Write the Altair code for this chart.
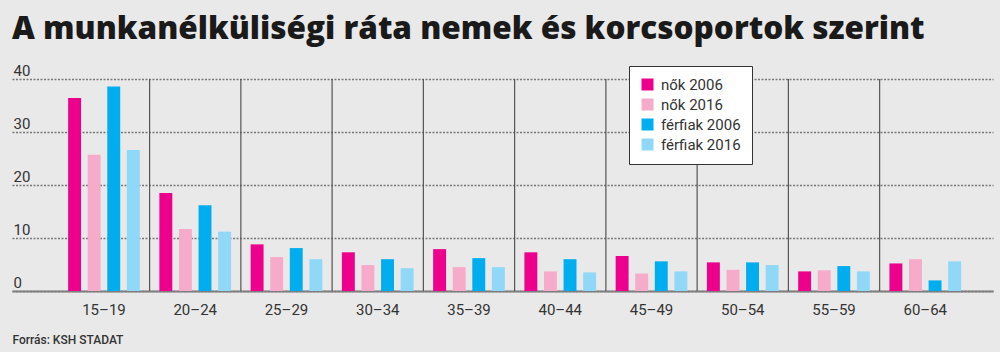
import altair as alt
import pandas as pd

categories = ["15–19", "20–24", "25–29", "30–34", "35–39", "40–44", "45–49", "50–54", "55–59", "60–64"]
series = ["nők 2006", "nők 2016", "férfiak 2006", "férfiak 2016"]
nok_2006 = [36.4, 18.5, 8.8, 7.3, 7.9, 7.3, 6.6, 5.4, 3.7, 5.2]
nok_2016 = [25.7, 11.7, 6.4, 4.9, 4.5, 3.7, 3.3, 4.0, 3.9, 6.0]
ferfiak_2006 = [38.6, 16.2, 8.1, 6.0, 6.2, 6.0, 5.6, 5.4, 4.7, 2.0]
ferfiak_2016 = [26.6, 11.2, 6.0, 4.3, 4.5, 3.5, 3.7, 4.9, 3.7, 5.6]
colors = ["#ec008c", "#f6abcb", "#00aeef", "#8fd8f8"]

values = [nok_2006, nok_2016, ferfiak_2006, ferfiak_2016]
rows = []
for s, vals in zip(series, values):
    for c, v in zip(categories, vals):
        rows.append({"kor": c, "sor": s, "ertek": v})
df = pd.DataFrame(rows)
sep_df = pd.DataFrame({"kor": categories[1:]})

W, H = 981, 212
FONT = "Roboto"

x_scale = alt.Scale(domain=categories, paddingInner=0, paddingOuter=0.375, align=0.677)
x_axis = alt.Axis(
    title="Forrás: KSH STADAT", titleX=0, titleY=52, titleAlign="left", titleAnchor="start",
    titleBaseline="alphabetic", titleFontSize=12, titleFontWeight=500, titleColor="#333",
    titleFont=FONT,
    labelAngle=0, labelFontSize=15, labelColor="#333", labelFont=FONT, labelPadding=11,
    ticks=False, domain=True, domainColor="#7f7f7f", domainWidth=2, grid=False,
)

bars = alt.Chart(df).mark_bar().encode(
    x=alt.X("kor:N", scale=x_scale, axis=x_axis, sort=categories),
    xOffset=alt.XOffset("sor:N", scale=alt.Scale(domain=series, paddingInner=0.34, paddingOuter=0.5)),
    y=alt.Y("ertek:Q", scale=alt.Scale(domain=[0, 40], nice=False),
            axis=alt.Axis(title=None, values=[0, 10, 20, 30, 40], domain=False, ticks=False,
                          labelAlign="left", labelBaseline="alphabetic", labelPadding=-1,
                          labelOffset=-4, labelFontSize=15, labelColor="#333", labelFont=FONT,
                          grid=True, gridColor="#777", gridDash=[2, 1.5], gridWidth=1.5)),
    color=alt.Color("sor:N", scale=alt.Scale(domain=series, range=colors),
                    legend=alt.Legend(title=None, orient="none", legendX=617, legendY=-13,
                                      symbolType="square", symbolSize=144, symbolStrokeWidth=0,
                                      labelFontSize=15, labelColor="#333", labelFont=FONT,
                                      labelOffset=6, rowPadding=4, padding=11,
                                      fillColor="white", strokeColor="#333")),
)

seps = alt.Chart(sep_df).mark_rule(color="#555", strokeWidth=1.2).encode(
    x=alt.X("kor:N", scale=x_scale, axis=x_axis, sort=categories, bandPosition=0),
    y=alt.value(0),
    y2=alt.value(H),
)

chart = alt.layer(seps, bars).properties(
    width=W, height=H,
    autosize=alt.AutoSizeParams(type="none"),
    padding={"left": 12, "top": 79, "right": 7, "bottom": 61},
    background="#e9e9e9",
    title=alt.Title("A munkanélküliségi ráta nemek és korcsoportok szerint",
                    anchor="start", frame="group", fontSize=31.5, fontWeight=800, font="Open Sans",
                    color="#1a1a1a", offset=18),
).configure_view(stroke=None)

chart.save("out.html", embed_options={"renderer": "svg", "actions": False})
